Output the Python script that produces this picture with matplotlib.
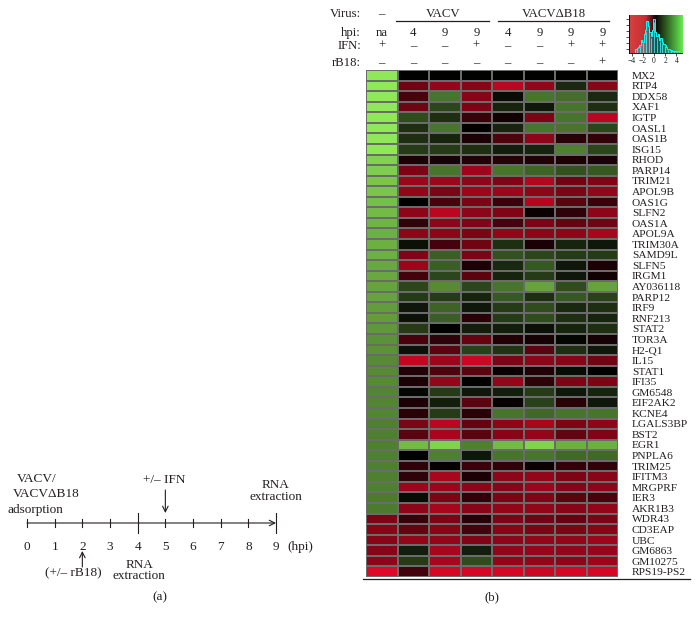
import numpy as np
import matplotlib
matplotlib.use('Agg')
import matplotlib.pyplot as plt
from matplotlib.colors import LinearSegmentedColormap

plt.rcParams['font.family'] = ['Liberation Serif', 'DejaVu Serif']

# heatmap data (log ratio, red = negative, green = positive)
genes = ['MX2', 'RTP4', 'DDX58', 'XAF1', 'IGTP', 'OASL1', 'OAS1B', 'ISG15',
         'RHOD', 'PARP14', 'TRIM21', 'APOL9B', 'OAS1G', 'SLFN2', 'OAS1A', 'APOL9A',
         'TRIM30A', 'SAMD9L', 'SLFN5', 'IRGM1', 'AY036118', 'PARP12', 'IRF9', 'RNF213',
         'STAT2', 'TOR3A', 'H2-Q1', 'IL15', 'STAT1', 'IFI35', 'GM6548', 'EIF2AK2',
         'KCNE4', 'LGALS3BP', 'BST2', 'EGR1', 'PNPLA6', 'TRIM25', 'IFITM3', 'MRGPRF',
         'IER3', 'AKR1B3', 'WDR43', 'CD3EAP', 'UBC', 'GM6863', 'GM10275', 'RPS19-PS2']

values = [
    [4.0, 0.0, 0.0, 0.0, 0.0, 0.0, 0.0, 0.0],
    [4.0, -2.0, -2.6, -2.4, -3.3, -2.6, 0.7, -2.4],
    [4.0, -1.3, 2.0, -2.4, 0.2, 2.0, 1.9, 0.7],
    [4.0, -2.0, 1.2, -2.2, 0.6, 0.4, 2.0, 0.8],
    [4.0, 1.3, 0.8, -1.0, -0.3, -2.2, 2.0, -3.3],
    [4.0, 0.8, 2.0, 0.0, 0.6, 2.0, 2.0, 1.2],
    [4.0, 0.8, 0.6, -0.5, -1.4, -2.5, -0.7, -0.9],
    [4.0, 1.0, 1.0, 0.8, 0.5, 0.6, 2.2, 1.2],
    [3.6, -0.5, -0.4, -0.6, -0.7, -0.6, -0.5, -0.5],
    [3.5, -2.2, 2.0, -2.8, 2.0, 1.7, 1.4, 1.5],
    [3.4, -2.8, -2.8, -2.5, -2.3, -3.2, -2.0, -2.3],
    [3.4, -2.6, -2.2, -2.8, -2.8, -2.5, -2.2, -2.6],
    [3.3, 0.0, -1.3, -2.2, -1.0, -3.2, -1.6, -1.0],
    [3.2, -2.5, -3.3, -2.5, -2.3, -0.2, -0.8, -2.5],
    [3.1, -0.9, -2.5, -2.3, -1.2, -2.2, -1.8, -2.0],
    [3.0, -2.5, -2.5, -2.2, -2.6, -2.5, -2.5, -3.0],
    [3.0, 0.3, -1.2, -2.0, 0.8, -0.5, 0.6, 0.4],
    [3.0, -2.3, 1.6, -2.2, 1.4, 1.2, 1.0, 1.0],
    [2.9, -2.8, 1.6, -0.5, 0.7, 1.5, 0.4, -0.5],
    [2.9, -1.2, 1.2, -1.6, 0.6, 1.0, 0.4, -0.3],
    [2.8, 1.2, 2.4, 1.2, 2.0, 2.8, 1.3, 2.8],
    [2.8, 1.0, 1.0, 0.6, 1.5, 0.8, 1.5, 1.1],
    [2.7, 0.4, 1.7, 0.4, 1.0, 1.3, 0.7, 0.8],
    [2.7, 0.3, 1.6, -0.7, 1.0, 1.3, 0.8, 0.6],
    [2.6, 1.0, 0.0, 0.5, 0.5, 0.3, 0.6, 0.8],
    [2.5, -1.3, -0.8, -1.8, -0.6, -0.4, 0.1, -0.4],
    [2.5, 0.3, -1.6, 1.1, 0.9, -1.6, 0.8, 0.4],
    [2.4, -3.5, -2.8, -3.6, -2.2, -2.5, -2.4, -2.0],
    [2.4, -0.6, -1.4, -1.6, -0.2, -0.6, 0.2, 0.0],
    [2.4, -0.5, -2.6, 0.0, -2.6, -0.8, -2.2, -2.2],
    [2.3, 0.1, 1.0, 0.4, 0.5, 1.0, 0.4, 0.6],
    [2.3, -0.5, 0.5, -1.6, -0.1, 1.1, -0.7, 0.4],
    [2.3, -0.7, 1.0, -0.7, 2.0, 1.8, 2.0, 2.0],
    [2.2, -2.2, -3.3, -1.8, -2.5, -3.0, -2.2, -2.5],
    [2.2, -1.6, -3.0, -1.6, -2.4, -2.6, -1.8, -2.3],
    [2.2, 3.2, 3.6, 2.2, 3.2, 3.6, 3.0, 3.0],
    [2.2, 0.0, 2.2, 0.4, 2.0, 2.0, 1.8, 1.8],
    [2.2, -0.8, -0.1, -1.0, -0.8, -0.2, -0.9, -0.8],
    [2.2, -0.8, -3.0, -0.5, -2.5, -2.6, -2.2, -2.4],
    [2.2, -2.8, -2.8, -2.5, -2.4, -2.8, -2.4, -2.5],
    [2.1, 0.2, -2.2, -0.8, -2.2, -2.3, -1.6, -1.3],
    [2.1, -2.5, -3.0, -2.4, -2.6, -2.6, -2.4, -2.6],
    [-2.2, -1.0, -2.2, -0.7, -2.2, -2.0, -1.8, -2.2],
    [-2.4, -1.8, -2.4, -1.2, -2.4, -2.2, -2.2, -2.4],
    [-2.4, -2.6, -2.6, -2.3, -2.5, -2.6, -2.6, -2.8],
    [-2.4, 0.5, -3.0, 0.5, -2.6, -2.7, -2.6, -2.7],
    [-2.5, 1.0, -3.0, 1.3, -2.6, -2.6, -2.5, -2.8],
    [-4.0, -1.2, -3.8, -3.8, -3.8, -3.6, -3.8, -3.8],
]

virus_row = ['–', '', '', '', '', '', '', '']
hpi_row = ['na', '4', '9', '9', '4', '9', '9', '9']
ifn_row = ['+', '–', '–', '+', '–', '–', '+', '+']
rb18_row = ['–', '–', '–', '–', '–', '–', '–', '+']
header_names = ['Virus:', 'hpi:', 'IFN:', 'rB18:']

# color key histogram (bin centres and relative heights)
key_bins = np.arange(-3.5, 4.75, 0.25)
key_heights = [0.05, 0.1, 0.12, 0.15, 0.2, 0.35, 0.3, 0.5, 0.6, 0.85, 0.7,
               0.55, 0.45, 0.6, 0.9, 0.55, 0.45, 0.5, 0.35, 0.4, 0.3, 0.25,
               0.2, 0.15, 0.1, 0.1, 0.08, 0.06, 0.05, 0.05, 0.04, 0.04, 0.04]

# timeline
hours = list(range(10))
major_hours = [4, 9]

W, H = 699, 622
fig = plt.figure(figsize=(W / 100, H / 100), dpi=100)
txt = '#231f20'

cmap = LinearSegmentedColormap.from_list(
    'rg', [(0, (0.88, 0.03, 0.15)), (0.5, (0, 0, 0)), (1, (0.56, 0.91, 0.34))])
key_cmap = LinearSegmentedColormap.from_list(
    'key', [(0, (0.85, 0.25, 0.25)), (0.3, (0.78, 0.18, 0.2)),
            (0.5, (0.05, 0.02, 0.02)), (1, (0.4, 0.92, 0.32))])

# ---- panel (b): heatmap
ax = fig.add_axes([366 / W, 1 - 577 / H, 252 / W, 507 / H])
data = np.array(values)
ax.pcolormesh(data, cmap=cmap, vmin=-4, vmax=4, edgecolors='#6b6b6b', linewidth=0.3)
ax.set_xlim(0, data.shape[1])
ax.set_ylim(data.shape[0], 0)
ax.set_xticks([])
ax.yaxis.tick_right()
ax.set_yticks(np.arange(len(genes)) + 0.5)
ax.set_yticklabels(genes, fontsize=8.2, color=txt)
ax.tick_params(axis='y', length=0, pad=10)
for s in ax.spines.values():
    s.set_visible(False)
ax.plot([-0.012, 1.286], [-0.003, -0.003], transform=ax.transAxes,
        color=txt, lw=0.9, clip_on=False)

bt = ax.get_xaxis_transform()
row_y = [1.1045, 1.067, 1.0414, 1.0079]
for name, y in zip(header_names, row_y):
    ax.text(-0.02, y, name, transform=ax.transAxes, ha='right', va='baseline',
            fontsize=9.2, color=txt)
for row, y in zip([virus_row, hpi_row, ifn_row, rb18_row], row_y):
    for i, s in enumerate(row):
        ax.text(i + 0.5, y, s, transform=bt, ha='center', va='baseline',
                fontsize=9.2, color=txt)
ax.text(2.45, row_y[0], 'VACV', transform=bt, ha='center', va='baseline', fontsize=9.2, color=txt)
ax.text(5.95, row_y[0], 'VACVΔB18', transform=bt, ha='center', va='baseline', fontsize=9.2, color=txt)
ax.plot([0.95, 3.92], [1.096, 1.096], transform=bt, color=txt, lw=0.9, clip_on=False)
ax.plot([4.18, 7.72], [1.096, 1.096], transform=bt, color=txt, lw=0.9, clip_on=False)

fig.text(492 / W, 1 - 597 / H, '(b)', ha='center', va='center', fontsize=9.2, color=txt)

# ---- color key
kx = fig.add_axes([629 / W, 1 - 53 / H, 53 / W, 38 / H])
grad = np.linspace(-4.5, 5, 200).reshape(1, -1)
kx.imshow(grad, cmap=key_cmap, vmin=-4.5, vmax=5, aspect='auto',
          extent=(-4.5, 5, 0, 1))
kx.fill_between(key_bins, key_heights, step='mid', color='#00e8f0', alpha=0.35, lw=0)
kx.step(key_bins, key_heights, where='mid', color='#00ffff', lw=0.7)
kx.vlines(key_bins[::2], 0, np.array(key_heights[::2]) * 0.9, color='#5ff5ff', lw=0.5)
kx.set_xlim(-4.5, 5)
kx.set_ylim(0, 1)
kx.set_xticks([-4, -2, 0, 2, 4])
kx.set_xticklabels(['−4', '−2', '0', '2', '4'], fontsize=5.5, color=txt)
kx.set_yticks(np.linspace(0.1, 0.9, 6))
kx.set_yticklabels([])
kx.tick_params(length=2, width=0.5, pad=1)
kx.spines['top'].set_visible(False)
kx.spines['right'].set_visible(False)
for s in ['left', 'bottom']:
    kx.spines[s].set_linewidth(0.6)

# ---- panel (a): timeline
ta = fig.add_axes([0, 0, 360 / W, 1])
ta.set_xlim(-27 / 27.67, (360 - 27) / 27.67)
ta.set_ylim(H, 0)
ta.axis('off')
axis_y = 523
ta.annotate('', xy=(hours[-1], axis_y), xytext=(hours[0], axis_y),
            arrowprops=dict(arrowstyle='->', lw=0.8, color=txt, shrinkA=0, shrinkB=0))
for h in hours:
    big = h in major_hours
    half = 10 if big else 4
    ta.plot([h, h], [axis_y - half, axis_y + half], color=txt, lw=0.8)
    ta.text(h, 547, str(h), ha='center', va='center', fontsize=9.5, color=txt)
ta.text(hours[-1] + 0.4, 547, '(hpi)', ha='left', va='center', fontsize=9.5, color=txt)

fs = 9.5
ta.text(-0.36, 479, 'VACV/', ha='left', va='center', fontsize=fs, color=txt)
ta.text(-0.5, 494, 'VACVΔB18', ha='left', va='center', fontsize=fs, color=txt)
ta.text(-0.69, 510, 'adsorption', ha='left', va='center', fontsize=fs, color=txt)
ta.text(4.95, 480, '+/– IFN', ha='center', va='center', fontsize=fs, color=txt)
ta.annotate('', xy=(5, 513), xytext=(5, 490),
            arrowprops=dict(arrowstyle='->', lw=0.8, color=txt, shrinkA=0, shrinkB=0))
ta.text(9, 485, 'RNA', ha='center', va='center', fontsize=fs, color=txt)
ta.text(9, 497, 'extraction', ha='center', va='center', fontsize=fs, color=txt)
ta.annotate('', xy=(2, 551), xytext=(2, 567),
            arrowprops=dict(arrowstyle='->', lw=0.8, color=txt, shrinkA=0, shrinkB=0))
ta.text(1.66, 573, '(+/– rB18)', ha='center', va='center', fontsize=fs, color=txt)
ta.text(4.05, 565, 'RNA', ha='center', va='center', fontsize=fs, color=txt)
ta.text(4.05, 576, 'extraction', ha='center', va='center', fontsize=fs, color=txt)
ta.text(4.8, 597, '(a)', ha='center', va='center', fontsize=fs, color=txt)

fig.savefig('out.png', dpi=100, facecolor='white')
